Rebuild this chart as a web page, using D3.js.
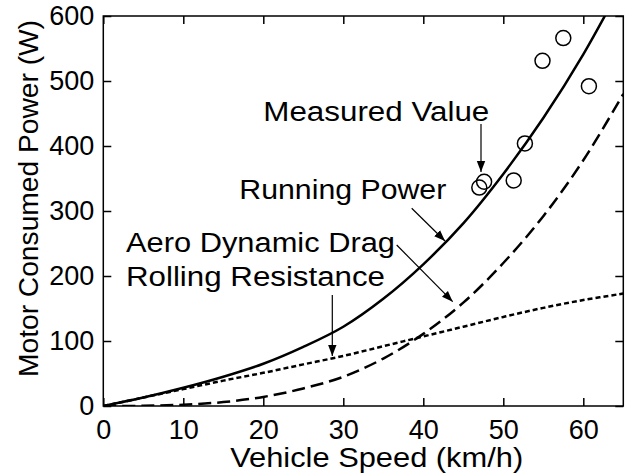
<!DOCTYPE html>
<html>
<head>
<meta charset="utf-8">
<script src="https://cdn.jsdelivr.net/npm/d3@7"></script>
<style>
  body { margin: 0; background: #fff; }
  text { font-family: Arial, "Liberation Sans", sans-serif; fill: #000; }
</style>
</head>
<body>
<div id="chart"></div>
<script>
`use strict`;

// speeds in km/h, read every 5 km/h off the picture
const speeds = [0, 5, 10, 15, 20, 25, 30, 35, 40, 45, 50, 55, 60, 65];
const runningPower = [0, 13, 28, 45, 65, 91, 122, 165, 218, 281, 357, 443, 541, 653];
const aeroDrag = [0, 0.3, 2, 6, 14, 27, 45, 73, 111, 159, 220, 292, 378, 480];
const rollingResistance = [0, 13, 26, 39, 51, 64, 77, 92, 107, 122, 137, 151, 163, 173];

// measured points
const measuredSpeed = [47.0, 47.6, 51.3, 52.7, 54.9, 57.5, 60.7];
const measuredPower = [336, 345, 347, 404, 531, 566, 492];

const xTicks = [0, 10, 20, 30, 40, 50, 60];
const yTicks = [0, 100, 200, 300, 400, 500, 600];

let w = 631, h = 474;
let plotLeft = 103.3, plotRight = 623.3, plotTop = 16, plotBottom = 406;
let fontSize = 27;

let svg = d3.select('#chart').append('svg')
    .attr('width', w).attr('height', h);

let x = d3.scaleLinear().domain([0, 65]).range([plotLeft, plotRight]);
let y = d3.scaleLinear().domain([0, 600]).range([plotBottom, plotTop]);

let defs = svg.append('defs');
defs.append('clipPath').attr('id', 'plot-clip')
    .append('rect').attr('x', plotLeft).attr('y', plotTop)
    .attr('width', plotRight - plotLeft).attr('height', plotBottom - plotTop);

let marker = defs.append('marker').attr('id', 'head')
    .attr('viewBox', '0 0 10 10').attr('refX', 10).attr('refY', 5)
    .attr('markerWidth', 11).attr('markerHeight', 11)
    .attr('markerUnits', 'userSpaceOnUse').attr('orient', 'auto');
marker.append('path').attr('d', 'M0,1.2 L10,5 L0,8.8 Z').attr('fill', '#000');

//axes, ticks inward on all four sides
let tickLen = 8;
let axes = svg.append('g').classed('axes', true);
axes.append('g').attr('transform', `translate(0,${plotBottom})`)
    .call(d3.axisBottom(x).tickValues(xTicks).tickSize(-tickLen).tickPadding(14).tickFormat(d3.format('d')));
axes.append('g').attr('transform', `translate(0,${plotTop})`)
    .call(d3.axisTop(x).tickValues(xTicks).tickSize(-tickLen).tickFormat(''));
axes.append('g').attr('transform', `translate(${plotLeft},0)`)
    .call(d3.axisLeft(y).tickValues(yTicks).tickSize(-tickLen).tickPadding(9).tickFormat(d3.format('d')));
axes.append('g').attr('transform', `translate(${plotRight},0)`)
    .call(d3.axisRight(y).tickValues(yTicks).tickSize(-tickLen).tickFormat(''));
axes.selectAll('.domain').remove();
axes.selectAll('line').attr('stroke', '#000').attr('stroke-width', 1.5);
axes.selectAll('text').attr('font-size', fontSize).attr('font-family', 'Arial, "Liberation Sans", sans-serif').attr('fill', '#000');
axes.append('rect').attr('x', plotLeft).attr('y', plotTop)
    .attr('width', plotRight - plotLeft).attr('height', plotBottom - plotTop)
    .attr('fill', 'none').attr('stroke', '#000').attr('stroke-width', 1.5);

//axis titles
svg.append('text').attr('x', 376.7).attr('y', 467)
    .attr('text-anchor', 'middle').attr('font-size', fontSize)
    .attr('textLength', 293).attr('lengthAdjust', 'spacingAndGlyphs')
    .text('Vehicle Speed (km/h)');
svg.append('text').attr('transform', `translate(38,198.5) rotate(-90)`)
    .attr('text-anchor', 'middle').attr('font-size', fontSize)
    .attr('textLength', 357).attr('lengthAdjust', 'spacingAndGlyphs')
    .text('Motor Consumed Power (W)');

//curves
let line = d3.line()
    .x((d) => { return x(d[0]); })
    .y((d) => { return y(d[1]); })
    .curve(d3.curveCatmullRom);

let curves = [
    {values: runningPower, dash: null},
    {values: aeroDrag, dash: '13,6'},
    {values: rollingResistance, dash: '5,3'}
];
let plot = svg.append('g').attr('clip-path', 'url(#plot-clip)');
for (let c of curves) {
    plot.append('path')
        .datum(speeds.map((s, i) => [s, c.values[i]]))
        .attr('d', line)
        .attr('fill', 'none').attr('stroke', '#000')
        .attr('stroke-width', 2.5)
        .attr('stroke-dasharray', c.dash);
}

//measured values
svg.append('g').selectAll('circle')
    .data(measuredSpeed.map((s, i) => [s, measuredPower[i]]))
    .join('circle')
    .attr('cx', (d) => x(d[0])).attr('cy', (d) => y(d[1]))
    .attr('r', 7.5).attr('fill', 'none').attr('stroke', '#000').attr('stroke-width', 1.5);

//annotations with arrows
let notes = [
    {label: 'Measured Value', tx: 263.3, ty: 120.7, len: 226, from: [481, 124], to: [481, 172]},
    {label: 'Running Power', tx: 239.3, ty: 199.3, len: 207, from: [411.7, 208.3], to: [445, 241]},
    {label: 'Aero Dynamic Drag', tx: 126, ty: 251.7, len: 269, from: [396.7, 245], to: [452.7, 301.7]},
    {label: 'Rolling Resistance', tx: 126, ty: 285.7, len: 259, from: [332.3, 295], to: [332.3, 356]}
];
let ann = svg.append('g').classed('annotations', true);
for (let n of notes) {
    ann.append('text').attr('x', n.tx).attr('y', n.ty)
        .attr('font-size', fontSize)
        .attr('textLength', n.len).attr('lengthAdjust', 'spacingAndGlyphs')
        .text(n.label);
    ann.append('line')
        .attr('x1', n.from[0]).attr('y1', n.from[1])
        .attr('x2', n.to[0]).attr('y2', n.to[1])
        .attr('stroke', '#000').attr('stroke-width', 1.2)
        .attr('marker-end', 'url(#head)');
}
</script>
</body>
</html>
